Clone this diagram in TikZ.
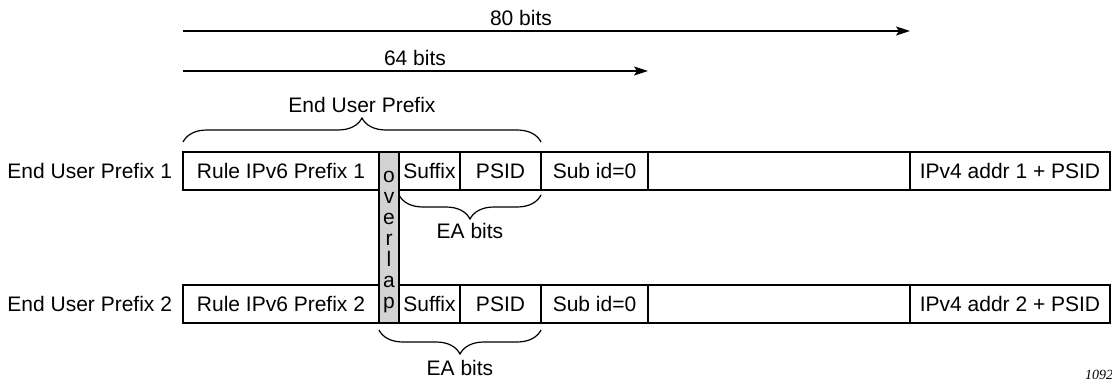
\documentclass[tikz,border=0pt]{standalone}
\usepackage{fontspec}
\setmainfont{Liberation Sans}
\newfontfamily\figserif{Liberation Serif}
\usetikzlibrary{arrows.meta,decorations.pathreplacing}
\definecolor{ovgrey}{RGB}{211,211,211}
\begin{document}
\begin{tikzpicture}[x=1pt,y=-1pt,
  every node/.style={font=\fontsize{21}{25}\selectfont, inner sep=0pt, outer sep=0pt},
  field/.style={draw, line width=2.5pt, minimum height=38pt, anchor=west, text height=15pt, text depth=0pt},
  ovlbox/.style={draw, fill=ovgrey, line width=2.5pt, minimum width=20pt, minimum height=171pt, anchor=north west},
  measure/.style={line width=1.3pt, -{Stealth[length=14pt,width=9pt,inset=3pt]}},
  bracestyle/.style={line width=1.2pt, decorate, decoration={brace, amplitude=24pt}},
  lbl/.style={anchor=base}
]
\useasboundingbox (0,0) rectangle (1112,383);

% measuring arrows
\coordinate (a80s) at (183,31);
\coordinate (a80e) at (910,31);
\draw[measure] (a80s) -- (a80e);
\node[lbl] (t80) at (521,25) {80 bits};
\coordinate (a64s) at (183,71);
\coordinate (a64e) at (648,71);
\draw[measure] (a64s) -- (a64e);
\node[lbl] (t64) at (415,65.5) {64 bits};

% end user prefix brace
\coordinate (eupL) at (183,142);
\coordinate (eupR) at (541,142);
\draw[bracestyle] (eupL) -- (eupR);
\node[lbl] (teup) at (362,112) {End User Prefix};

% row 1
\node[lbl, anchor=base east] (lab1) at (172,178.5) {End User Prefix 1};
\node[field, minimum width=196pt] (r1rule) at (183,171) {Rule IPv6 Prefix 1};
\node[field, minimum width=61pt] (r1suf) at (399,171) {Suffix};
\node[field, minimum width=81pt] (r1psid) at (460,171) {PSID};
\node[field, minimum width=107pt] (r1sub) at (541,171) {Sub id=0};
\node[field, minimum width=262pt] (r1pad) at (648,171) {};
\node[field, minimum width=200pt] (r1v4) at (910,171) {IPv4 addr 1 + PSID};

% row 2
\node[lbl, anchor=base east] (lab2) at (172,311.5) {End User Prefix 2};
\node[field, minimum width=196pt] (r2rule) at (183,304) {Rule IPv6 Prefix 2};
\node[field, minimum width=61pt] (r2suf) at (399,304) {Suffix};
\node[field, minimum width=81pt] (r2psid) at (460,304) {PSID};
\node[field, minimum width=107pt] (r2sub) at (541,304) {Sub id=0};
\node[field, minimum width=262pt] (r2pad) at (648,304) {};
\node[field, minimum width=200pt] (r2v4) at (910,304) {IPv4 addr 2 + PSID};

% overlap column
\node[ovlbox] (ovl) at (379,152) {};
\foreach \ch [count=\i from 0] in {o,v,e,r,l,a,p}
  \node[lbl] (ov\i) at (389,182+21*\i) {\ch};

% EA bits braces
\coordinate (ea1R) at (541,195);
\coordinate (ea1L) at (399,195);
\draw[bracestyle] (ea1R) -- (ea1L);
\node[lbl] (tea1) at (470,238) {EA bits};
\coordinate (ea2R) at (541,330);
\coordinate (ea2L) at (379,330);
\draw[bracestyle] (ea2R) -- (ea2L);
\node[lbl] (tea2) at (460,375) {EA bits};

% figure number
\node[anchor=base west, font=\figserif\itshape\fontsize{14}{16}\selectfont] (fignum) at (1085,379) {1092};
\end{tikzpicture}
\end{document}
